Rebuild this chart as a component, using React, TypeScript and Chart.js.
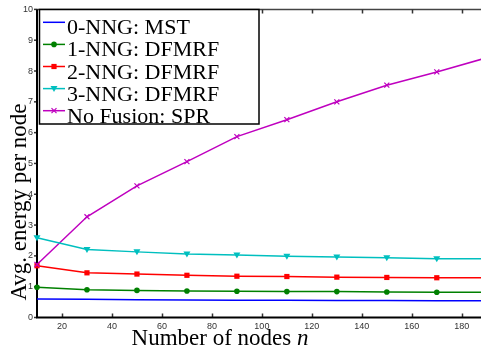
import { useEffect, useRef } from 'react';
import { Chart, registerables } from 'chart.js';
Chart.register(...registerables);

const nodes = [10, 30, 50, 70, 90, 110, 130, 150, 170, 190];
const mst = [0.6, 0.59, 0.58, 0.57, 0.56, 0.56, 0.55, 0.55, 0.54, 0.54];
const nng1 = [0.98, 0.9, 0.88, 0.86, 0.85, 0.84, 0.84, 0.83, 0.82, 0.82];
const nng2 = [1.68, 1.45, 1.41, 1.37, 1.34, 1.33, 1.31, 1.3, 1.29, 1.29];
const nng3 = [2.59, 2.21, 2.13, 2.06, 2.03, 1.99, 1.96, 1.94, 1.91, 1.91];
const spr = [1.72, 3.27, 4.27, 5.06, 5.87, 6.42, 7.0, 7.54, 7.97, 8.43];
const seriesLabels = ['0-NNG: MST', '1-NNG: DFMRF', '2-NNG: DFMRF', '3-NNG: DFMRF', 'No Fusion: SPR'];
const seriesColors = ['#0000ff', '#008000', '#ff0000', '#00bfbf', '#bf00bf'];
const seriesMarkers = ['none', 'circle', 'rect', 'triangleDown', 'cross'];
const xTicks = [20, 40, 60, 80, 100, 120, 140, 160, 180];
const yTicks = [0, 1, 2, 3, 4, 5, 6, 7, 8, 9, 10];
const xTitle = 'Number of nodes ';
const xTitleVar = 'n';
const yTitle = 'Avg. energy per node';

const SERIF = '"Liberation Serif", "DejaVu Serif", serif';

function drawMarker(ctx: CanvasRenderingContext2D, kind: string, x: number, y: number, color: string) {
  ctx.save();
  ctx.fillStyle = color;
  ctx.strokeStyle = color;
  ctx.lineWidth = 1.2;
  if (kind === 'circle') {
    ctx.beginPath();
    ctx.arc(x, y, 2.8, 0, Math.PI * 2);
    ctx.fill();
  } else if (kind === 'rect') {
    ctx.fillRect(x - 2.6, y - 2.6, 5.2, 5.2);
  } else if (kind === 'triangleDown') {
    ctx.beginPath();
    ctx.moveTo(x - 3.5, y - 2.5);
    ctx.lineTo(x + 3.5, y - 2.5);
    ctx.lineTo(x, y + 3.5);
    ctx.closePath();
    ctx.fill();
  } else if (kind === 'cross') {
    ctx.beginPath();
    ctx.moveTo(x - 2.5, y - 2.5);
    ctx.lineTo(x + 2.5, y + 2.5);
    ctx.moveTo(x + 2.5, y - 2.5);
    ctx.lineTo(x - 2.5, y + 2.5);
    ctx.stroke();
  }
  ctx.restore();
}

const markerPlugin = {
  id: 'customMarkers',
  afterDatasetsDraw(chart: any) {
    const ctx = chart.ctx;
    chart.data.datasets.forEach((ds: any, i: number) => {
      const meta = chart.getDatasetMeta(i);
      const kind = seriesMarkers[i];
      if (kind === 'none') return;
      meta.data.forEach((pt: any) => {
        drawMarker(ctx, kind, pt.x, pt.y, seriesColors[i]);
      });
    });
  },
};

const framePlugin = {
  id: 'frame',
  beforeDatasetsDraw(chart: any) {
    const { ctx, chartArea } = chart;
    const { left, right, top, bottom } = chartArea;
    const xs = chart.scales.x;
    const ys = chart.scales.y;
    ctx.save();
    // top border
    ctx.strokeStyle = '#444';
    ctx.lineWidth = 1.5;
    ctx.beginPath();
    ctx.moveTo(left, top);
    ctx.lineTo(right, top);
    ctx.stroke();
    // ticks
    ctx.strokeStyle = '#333';
    ctx.lineWidth = 1.5;
    xTicks.forEach((v) => {
      const px = Math.round(xs.getPixelForValue(v)) + 0.5;
      ctx.beginPath();
      ctx.moveTo(px, bottom);
      ctx.lineTo(px, bottom - 4);
      ctx.moveTo(px, top);
      ctx.lineTo(px, top + 4);
      ctx.stroke();
    });
    yTicks.forEach((v) => {
      const py = ys.getPixelForValue(v);
      ctx.beginPath();
      ctx.moveTo(left - 3, py);
      ctx.lineTo(left, py);
      ctx.stroke();
    });
    // left & bottom axes
    ctx.strokeStyle = '#000';
    ctx.lineWidth = 2;
    ctx.beginPath();
    ctx.moveTo(left, top);
    ctx.lineTo(left, bottom);
    ctx.lineTo(right, bottom);
    ctx.stroke();
    ctx.restore();
  },
};

const overlayPlugin = {
  id: 'overlay',
  afterDraw(chart: any) {
    const ctx = chart.ctx;
    ctx.save();
    // legend box
    const bx = 39.5, by = 9.5, bw = 219.5, bh = 114.5;
    ctx.fillStyle = '#fff';
    ctx.fillRect(bx, by, bw, bh);
    ctx.strokeStyle = '#000';
    ctx.lineWidth = 1.5;
    ctx.strokeRect(bx, by, bw, bh);
    ctx.font = `22px ${SERIF}`;
    ctx.textBaseline = 'alphabetic';
    ctx.textAlign = 'left';
    seriesLabels.forEach((lab, i) => {
      const base = 34.3 + i * 22.1;
      const my = base - 12;
      ctx.strokeStyle = seriesColors[i];
      ctx.lineWidth = 1.5;
      ctx.beginPath();
      ctx.moveTo(43, my);
      ctx.lineTo(65, my);
      ctx.stroke();
      drawMarker(ctx, seriesMarkers[i], 54, my, seriesColors[i]);
      ctx.fillStyle = '#000';
      ctx.fillText(lab, 67, base);
    });
    // x title
    ctx.fillStyle = '#000';
    ctx.font = `23px ${SERIF}`;
    const w1 = ctx.measureText(xTitle).width;
    ctx.font = `italic 23px ${SERIF}`;
    const w2 = ctx.measureText(xTitleVar).width;
    const startX = 220 - (w1 + w2) / 2;
    ctx.font = `23px ${SERIF}`;
    ctx.fillText(xTitle, startX, 345);
    ctx.font = `italic 23px ${SERIF}`;
    ctx.fillText(xTitleVar, startX + w1, 345);
    // y title
    ctx.font = `23px ${SERIF}`;
    ctx.translate(26, 202);
    ctx.rotate(-Math.PI / 2);
    ctx.textAlign = 'center';
    ctx.fillText(yTitle, 0, 0);
    ctx.restore();
  },
};

export default function App() {
  const ref = useRef<HTMLCanvasElement | null>(null);
  useEffect(() => {
    if (!ref.current) return;
    const all = [mst, nng1, nng2, nng3, spr];
    const chart = new Chart(ref.current, {
      type: 'line',
      data: {
        datasets: all.map((vals, i) => ({
          label: seriesLabels[i],
          data: nodes.map((n, j) => ({ x: n, y: vals[j] })),
          borderColor: seriesColors[i],
          backgroundColor: seriesColors[i],
          borderWidth: 1.5,
          pointRadius: 0,
          tension: 0,
          clip: false as any,
        })),
      },
      options: {
        responsive: false,
        animation: false,
        layout: { padding: { top: 6, right: 0, left: 0, bottom: 0 } },
        plugins: { legend: { display: false }, tooltip: { enabled: false } },
        scales: {
          x: {
            type: 'linear',
            min: 10,
            max: 187.7,
            grid: { display: false, drawTicks: false },
            border: { display: false },
            afterBuildTicks: (s: any) => {
              s.ticks = xTicks.map((v) => ({ value: v }));
            },
            afterFit: (s: any) => {
              s.height = 37.5;
            },
            ticks: {
              autoSkip: false,
              maxRotation: 0,
              padding: 4,
              color: '#333',
              font: { family: '"Liberation Sans", Arial, sans-serif', size: 9 },
            },
          },
          y: {
            type: 'linear',
            min: 0,
            max: 10,
            grid: { display: false, drawTicks: false },
            border: { display: false },
            afterBuildTicks: (s: any) => {
              s.ticks = yTicks.map((v) => ({ value: v }));
            },
            afterFit: (s: any) => {
              s.width = 37;
            },
            ticks: {
              padding: 4,
              color: '#333',
              font: { family: '"Liberation Sans", Arial, sans-serif', size: 9 },
            },
          },
        },
      },
      plugins: [framePlugin, markerPlugin, overlayPlugin],
    });
    return () => chart.destroy();
  }, []);
  return (
    <div style={{ position: 'absolute', left: 0, top: 0, width: 481, height: 355, background: '#fff' }}>
      <canvas ref={ref} width={481} height={355} style={{ display: 'block' }} />
    </div>
  );
}
